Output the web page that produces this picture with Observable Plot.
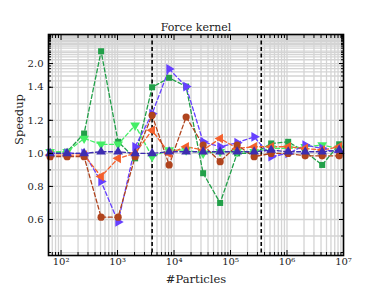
<!DOCTYPE html>
<html>
<head>
<meta charset="utf-8">
<script src="https://cdn.jsdelivr.net/npm/d3@7"></script>
<script src="https://cdn.jsdelivr.net/npm/@observablehq/plot@0.6"></script>
<style>
  html, body { margin: 0; padding: 0; background: #fff; }
  svg { font-family: "DejaVu Serif", "Liberation Serif", serif; }
</style>
</head>
<body>
<div id="chart"></div>
<script>
// ---- data ----
const particles = [64, 128, 256, 512, 1024, 2048, 4096, 8192, 16384, 32768, 65536, 131072, 262144, 524288, 1048576, 2097152, 4194304, 8388608];

const darkGreen = [1.00, 1.01, 1.12, 2.98, 1.07, 0.97, 1.40, 1.56, 1.41, 0.88, 0.70, 1.00, 1.00, 1.06, 1.07, 1.01, 0.93, 1.055];
const lime      = [1.01, 1.01, 1.09, 1.055, 1.055, 1.17, 0.98, 1.02, 1.02, 1.00, 1.01, 1.01, 1.01, 1.03, 1.03, 1.04, 1.05, 1.03];
const violet    = [1.00, 1.00, 1.00, 0.83, 0.585, 1.04, 1.24, 1.79, 1.41, 1.07, 1.04, 1.065, 1.10, 0.98, 1.00, 1.05, 1.03, 1.00];
const orange    = [0.99, 0.99, 0.99, 0.86, 0.97, 1.00, 1.14, 1.00, 1.04, 1.02, 1.09, 1.03, 1.04, 1.04, 1.04, 1.03, 1.02, 1.04];
const brown     = [0.98, 0.98, 0.98, 0.614, 0.614, 0.98, 1.23, 0.93, 1.22, 1.05, 0.95, 1.05, 0.98, 1.00, 1.00, 0.985, 0.985, 0.985];
const navy      = [1.00, 1.00, 1.00, 1.01, 1.01, 1.00, 1.00, 1.01, 1.01, 1.01, 1.01, 1.01, 1.01, 1.02, 1.01, 1.01, 1.01, 1.02];

const seriesNames = ["darkGreen", "lime", "violet", "orange", "brown", "navy"];
const seriesValues = [darkGreen, lime, violet, orange, brown, navy];

const markerLines = [4096, 350000];

const xTickValues = [1e2, 1e3, 1e4, 1e5, 1e6, 1e7];
const xTickLabels = ["10²", "10³", "10⁴", "10⁵", "10⁶", "10⁷"];
const yTickValues = [0.6, 0.8, 1.0, 1.2, 1.4, 2.0];
const yTickLabels = ["0.6", "0.8", "1.0", "1.2", "1.4", "2.0"];
const yMinorValues = [0.4, 0.5, 0.7, 0.9, 1.1, 1.3, 1.5, 1.6, 1.7, 1.8, 1.9, 2.2, 2.4, 2.6, 2.8, 3, 3.5, 4, 4.5, 5, 6, 7, 8, 10, 12, 15, 20, 30, 50, 100, 300, 1000];

// ---- styles ----
const seriesColors = ["#22a049", "#44ee66", "#6640ff", "#f4602c", "#b0441e", "#3d2db0"];
const seriesSymbols = ["square", "triangle", "triangle", "triangle", "circle", "triangle"];
const seriesRotate = [0, 180, 90, -90, 0, 0];

// y axis: linear up to 1.4, then compressed toward the top
const warp = v => v <= 1.4 ? v : 1.4 + (52.7 / 165) * (v - 1.4) / ((v - 1.4) + 0.734);

const rows = [];
seriesValues.forEach((vals, s) => {
  vals.forEach((v, i) => rows.push({series: seriesNames[s], s, x: particles[i], v}));
});

// minor log gridlines for x
const xGrid = [];
for (let e = 1; e <= 6; e++) for (let m = 1; m <= 9; m++) {
  const val = m * Math.pow(10, e);
  if (val >= 60 && val <= 1e7) xGrid.push(val);
}
xGrid.push(1e7);
const xMinor = xGrid.filter(v => !xTickValues.includes(v));

const yAll = yTickValues.concat(yMinorValues).filter(v => v >= 0.382);
const yLabelMap = new Map(yTickValues.map((v, i) => [warp(v), yTickLabels[i]]));
const xLabelMap = new Map(xTickValues.map((v, i) => [v, xTickLabels[i]]));

const marks = [
  Plot.ruleX(xGrid, {x: d => d, stroke: "#d4d4d4", strokeWidth: 1.3}),
  Plot.ruleY(yAll, {y: d => warp(d), stroke: "#d4d4d4", strokeWidth: 1.3}),
  Plot.ruleX(markerLines, {x: d => d, stroke: "black", strokeWidth: 1.6, strokeDasharray: "4,2.5"}),
];
seriesNames.forEach((name, s) => {
  const data = rows.filter(r => r.s === s);
  marks.push(Plot.line(data, {x: "x", y: d => warp(d.v), stroke: seriesColors[s], strokeWidth: 1.3, strokeDasharray: "4,2.5"}));
});
seriesNames.forEach((name, s) => {
  const data = rows.filter(r => r.s === s);
  marks.push(Plot.dot(data, {x: "x", y: d => warp(d.v), symbol: () => seriesSymbols[s], rotate: seriesRotate[s],
    fill: seriesColors[s], stroke: "none", r: s === 0 ? 3.4 : 3.6}));
});
marks.push(
  // inward ticks
  Plot.axisY({ticks: yAll.map(warp), anchor: "left", tickSize: 3, dx: 3, tickFormat: () => "", label: null}),
  Plot.axisY({ticks: yAll.map(warp), anchor: "right", tickSize: 3, dx: -3, tickFormat: () => "", label: null}),
  Plot.axisY({ticks: yTickValues.map(warp), anchor: "left", tickSize: 5, dx: 5, tickFormat: () => "", label: null}),
  Plot.axisY({ticks: yTickValues.map(warp), anchor: "right", tickSize: 5, dx: -5, tickFormat: () => "", label: null}),
  Plot.axisX({ticks: xMinor, anchor: "bottom", tickSize: 3, dy: -3, tickFormat: () => "", label: null}),
  Plot.axisX({ticks: xMinor, anchor: "top", tickSize: 3, dy: 3, tickFormat: () => "", label: null}),
  Plot.axisX({ticks: xTickValues, anchor: "bottom", tickSize: 5, dy: -5, tickFormat: () => "", label: null}),
  Plot.axisX({ticks: xTickValues, anchor: "top", tickSize: 5, dy: 5, tickFormat: () => "", label: null}),
  // labels
  Plot.axisY({ticks: yTickValues.map(warp), anchor: "left", tickSize: 0, tickPadding: 5, tickFormat: d => yLabelMap.get(d), label: null, fontSize: 10, fill: "#222"}),
  Plot.axisX({ticks: xTickValues, anchor: "bottom", tickSize: 0, tickPadding: 2, tickFormat: d => xLabelMap.get(d), label: null, fontSize: 10, fill: "#222"}),
  Plot.frame({stroke: "black", strokeWidth: 1.6}),
  Plot.text(["Force kernel"], {frameAnchor: "top", dy: -11, fontSize: 11, fill: "#222"}),
  Plot.text(["Speedup"], {frameAnchor: "left", dx: -29, rotate: -90, fontSize: 11.5, fill: "#222"}),
  Plot.text(["#Particles"], {frameAnchor: "bottom", dy: 27, fontSize: 11.5, fill: "#222"})
);

const chart = Plot.plot({
  width: 382,
  height: 287,
  marginLeft: 48,
  marginRight: 39,
  marginTop: 34,
  marginBottom: 32,
  x: {type: "log", domain: [60, 1e7]},
  y: {type: "linear", domain: [0.382, warp(1e9)]},
  style: {fontFamily: "'DejaVu Serif', 'Liberation Serif', serif", background: "white"},
  marks
});
document.getElementById("chart").appendChild(chart);
</script>
</body>
</html>
